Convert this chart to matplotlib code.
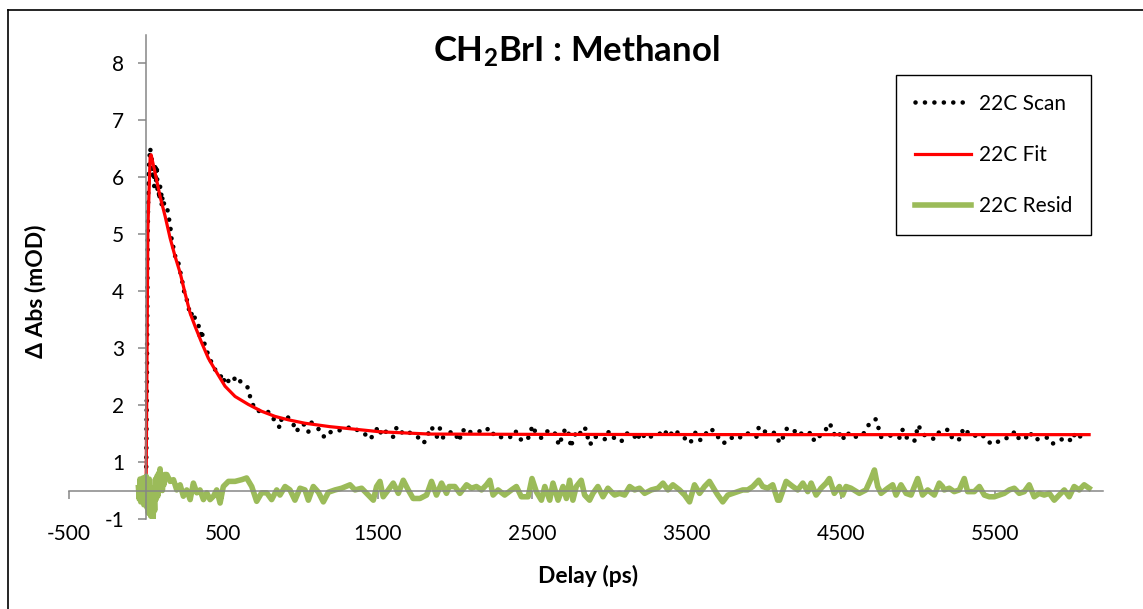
import matplotlib
matplotlib.use('Agg')
import matplotlib.pyplot as plt
from matplotlib.lines import Line2D

# 22C scan (delay in ps, signal in plot units)
scan_t = [-40, -25, -10, 0, 5, 10, 15, 20, 26, 31, 37, 42, 47, 52, 58, 63, 69, 74, 80, 85, 91, 97, 101, 106, 112, 118, 123,
          134, 145, 155, 161, 166, 172, 177, 183, 188, 198, 209, 220, 231, 241, 252, 263, 274, 285, 296, 306, 317, 328,
          339, 349, 360, 371, 382, 393, 403, 414, 425, 436, 447, 458, 468, 479, 490, 500, 511, 522, 533, 549, 565, 587,
          608, 635, 662, 673, 684, 695, 716, 743, 770, 802, 835,
          867, 878, 910, 949, 975, 997, 1029, 1051, 1072, 1105, 1137, 1154, 1202, 1245, 1288, 1331, 1368, 1417, 1454,
          1482, 1510, 1525, 1557, 1601, 1622, 1644, 1687, 1719, 1763, 1799, 1849, 1864, 1885, 1903, 1924, 1963,
          2004, 2022, 2033, 2054, 2069, 2104, 2140, 2190, 2222, 2241, 2269, 2319, 2356, 2392, 2421, 2464, 2492, 2500,
          2522, 2561, 2583, 2610, 2643, 2662, 2673, 2694, 2716, 2733, 2744, 2754, 2765, 2782, 2808, 2819, 2851, 2862,
          2877, 2899, 2940, 2981, 2998, 3024,
          3036, 3079, 3111, 3154, 3182, 3202, 3245, 3284, 3331, 3355, 3385, 3424, 3463, 3506, 3525, 3560, 3592, 3625,
          3650, 3693, 3715, 3743, 3784, 3838, 3870, 3920, 3957, 3970, 3995, 4013, 4049, 4082,
          4104, 4126, 4152, 4190, 4227, 4259, 4294, 4309, 4330, 4358, 4399, 4431, 4449, 4481, 4503, 4524, 4557, 4606,
          4649, 4675, 4712, 4729, 4746, 4762, 4816, 4843, 4869, 4887, 4902, 4928, 4977, 4992, 5003, 5031, 5074, 5111,
          5139, 5160,
          5183, 5208, 5225, 5275, 5290, 5307, 5333, 5383, 5415, 5448, 5495, 5543, 5592, 5631, 5657, 5694, 5726, 5750,
          5793, 5840, 5872, 5920, 5959, 6002, 6019, 6056, 6078]
scan_v = [0.55, 0.6, 0.55, 0.7, 2.5, 5.0, 6.0, 6.3, 6.51, 6.39, 6.30, 6.01, 6.19, 5.84, 6.25, 5.89, 6.20, 5.72, 5.84, 5.60,
          5.84, 5.78, 5.49, 5.66, 5.60, 5.49, 5.49,
          5.49, 5.31, 5.16, 5.02, 4.87, 4.87, 4.73, 4.70, 4.61, 4.49, 4.49, 4.35, 4.20, 4.08, 3.88, 3.85, 3.73, 3.56,
          3.60, 3.64, 3.50, 3.45, 3.41, 3.15, 3.32, 3.10, 3.06, 2.97, 2.85, 2.80, 2.74, 2.71, 2.62, 2.60, 2.59, 2.53,
          2.47, 2.39, 2.50, 2.45, 2.42, 2.45, 2.50, 2.38, 2.42, 2.35, 2.30, 2.15, 2.08, 1.98, 1.89, 1.90, 1.89, 1.87,
          1.71,
          1.60, 1.77, 1.81, 1.69, 1.53, 1.65, 1.66, 1.53, 1.69, 1.60, 1.54, 1.43, 1.54, 1.55, 1.58, 1.62, 1.56, 1.49,
          1.40, 1.54, 1.62, 1.46, 1.54, 1.44, 1.60, 1.50, 1.56, 1.49, 1.43, 1.33, 1.62, 1.53, 1.44, 1.59, 1.43, 1.52,
          1.52, 1.36, 1.42, 1.57, 1.49, 1.53, 1.55, 1.52, 1.60, 1.52, 1.43, 1.44, 1.43, 1.55, 1.40, 1.37, 1.50, 1.64,
          1.53, 1.42, 1.50, 1.56, 1.53, 1.43, 1.29, 1.43, 1.59, 1.56, 1.40, 1.25, 1.42, 1.49, 1.44, 1.60, 1.58, 1.42,
          1.30, 1.44, 1.44, 1.39, 1.54, 1.46,
          1.40, 1.36, 1.50, 1.50, 1.37, 1.52, 1.40, 1.47, 1.50, 1.57, 1.44, 1.57, 1.46, 1.39, 1.33, 1.52, 1.38, 1.49,
          1.59, 1.52, 1.38, 1.33, 1.43, 1.40, 1.50, 1.50, 1.44, 1.62, 1.55, 1.53, 1.54, 1.49,
          1.33, 1.43, 1.59, 1.58, 1.46, 1.53, 1.50, 1.52, 1.36, 1.44, 1.55, 1.68, 1.52, 1.42, 1.53, 1.39, 1.52, 1.43,
          1.50, 1.63, 1.74, 1.75, 1.59, 1.44, 1.47, 1.44, 1.44, 1.42, 1.57, 1.43, 1.36, 1.52, 1.65, 1.49, 1.43, 1.40,
          1.53, 1.56,
          1.57, 1.55, 1.39, 1.40, 1.55, 1.60, 1.47, 1.46, 1.49, 1.36, 1.31, 1.40, 1.43, 1.54, 1.40, 1.40, 1.53, 1.40,
          1.40, 1.43, 1.32, 1.38, 1.43, 1.36, 1.52, 1.44, 1.57]

# 22C fit
fit_t = [-40, 0, 11, 26, 32, 58, 90, 123, 155, 187, 220, 252, 285, 317, 360, 403, 446, 511, 576, 662, 748, 835, 921,
         1029, 1191, 1515, 1838, 2500, 4000, 6110]
fit_v = [0.55, 0.69, 5.1, 6.36, 6.39, 6.07, 5.66, 5.31, 4.93, 4.61, 4.32, 3.96, 3.61, 3.38, 3.09, 2.82, 2.62, 2.33, 2.15,
         2.01, 1.89, 1.80, 1.74, 1.68, 1.62, 1.53, 1.49, 1.485, 1.48, 1.48]

# 22C residual (offset, sits on the x axis)
resid_t = [-50, -45, -40, -35, -30, -25, -20, -15, -10, -5, 0, 5, 10, 15, 20, 25, 30, 35, 40, 45, 50, 55, 60, 65, 70,
           75, 80, 85, 90, 95, 100, 105, 110, 115, 120,
           134, 155, 177, 198, 220, 241, 263, 285, 306, 328, 349, 371, 393, 414, 436, 457, 479, 500, 533, 576, 619,
           651, 684, 716, 748, 781, 813, 846,
           867, 900, 932, 964, 997, 1029, 1051, 1083, 1116, 1148, 1181, 1224, 1267, 1321, 1353, 1396, 1439, 1472, 1493,
           1515, 1536, 1569, 1601, 1634, 1666, 1698, 1730, 1774, 1817, 1849, 1881, 1914, 1946, 1963,
           2000, 2033, 2076, 2108, 2140, 2173, 2205, 2227, 2248, 2280, 2323, 2367, 2399, 2431, 2475, 2500, 2528, 2561,
           2583, 2615, 2636, 2669, 2701, 2723, 2744, 2765, 2787, 2819, 2841, 2873, 2895, 2927, 2960, 2992, 3024,
           3036, 3068, 3100, 3133, 3165, 3197, 3230, 3273, 3316, 3349, 3381, 3413, 3456, 3489, 3521, 3553, 3586, 3618,
           3650, 3683, 3704, 3736, 3769, 3801, 3833, 3866, 3898, 3931, 3969, 3995, 4027, 4060, 4092,
           4104, 4147, 4190, 4222, 4255, 4287, 4309, 4341, 4373, 4406, 4427, 4459, 4492, 4513, 4535, 4567, 4621, 4664,
           4697, 4719, 4740, 4762, 4805, 4837, 4859, 4891, 4924, 4956, 4999, 5031, 5064, 5107, 5139, 5160,
           5171, 5204, 5236, 5269, 5301, 5323, 5366, 5399, 5431, 5463, 5496, 5528, 5560, 5593, 5625, 5657, 5690, 5722,
           5754, 5787, 5819, 5852, 5884, 5916, 5949, 5981, 6013, 6046, 6078, 6110]
resid_v = [0.55, 0.35, 0.70, 0.30, 0.65, 0.40, 0.72, 0.25, 0.60, 0.45, 0.75, 0.20, 0.55, 0.10, 0.70, 0.30, 0.05, 0.55,
           0.20, -0.02, 0.45, 0.15, 0.70, 0.35, 0.75, 0.40, 0.80, 0.50, 0.88, 0.55, 0.75, 0.50, 0.70, 0.60, 0.78,
           0.78, 0.66, 0.69, 0.51, 0.60, 0.40, 0.51, 0.34, 0.63, 0.46, 0.51, 0.34, 0.46, 0.34, 0.40, 0.51, 0.28, 0.57,
           0.66, 0.66, 0.69, 0.72, 0.57, 0.31, 0.46, 0.46, 0.34, 0.51,
           0.42, 0.57, 0.51, 0.33, 0.54, 0.51, 0.33, 0.57, 0.47, 0.30, 0.47, 0.51, 0.54, 0.60, 0.51, 0.54, 0.42, 0.33,
           0.57, 0.66, 0.39, 0.51, 0.63, 0.45, 0.68, 0.51, 0.36, 0.36, 0.42, 0.66, 0.42, 0.63, 0.45, 0.57,
           0.57, 0.45, 0.60, 0.54, 0.57, 0.51, 0.60, 0.68, 0.42, 0.51, 0.42, 0.51, 0.57, 0.39, 0.39, 0.71, 0.48, 0.33,
           0.57, 0.33, 0.63, 0.33, 0.57, 0.36, 0.68, 0.33, 0.57, 0.68, 0.42, 0.33, 0.45, 0.57, 0.39, 0.54, 0.45,
           0.42, 0.45, 0.42, 0.57, 0.51, 0.54, 0.45, 0.51, 0.54, 0.63, 0.51, 0.60, 0.51, 0.42, 0.30, 0.60, 0.45, 0.57,
           0.66, 0.51, 0.42, 0.30, 0.42, 0.45, 0.48, 0.51, 0.51, 0.57, 0.68, 0.57, 0.54, 0.60, 0.33,
           0.33, 0.66, 0.57, 0.51, 0.63, 0.48, 0.63, 0.42, 0.54, 0.63, 0.71, 0.45, 0.57, 0.42, 0.57, 0.54, 0.45, 0.51,
           0.71, 0.86, 0.57, 0.45, 0.54, 0.60, 0.42, 0.60, 0.45, 0.42, 0.71, 0.42, 0.51, 0.42, 0.63, 0.57,
           0.51, 0.54, 0.48, 0.51, 0.71, 0.48, 0.48, 0.57, 0.42, 0.39, 0.39, 0.42, 0.45, 0.51, 0.54, 0.45, 0.48, 0.60,
           0.39, 0.45, 0.42, 0.45, 0.33, 0.42, 0.51, 0.39, 0.57, 0.51, 0.60, 0.54]

x_ticks = [-500, 500, 1500, 2500, 3500, 4500, 5500]
y_ticks = [0, 1, 2, 3, 4, 5, 6, 7, 8]
y_tick_labels = ['-1', '1', '2', '3', '4', '5', '6', '7', '8']

FONT = ['Lato', 'DejaVu Sans']
plt.rcParams['font.family'] = FONT
plt.rcParams['mathtext.default'] = 'regular'

W, H = 1143, 609
fig = plt.figure(figsize=(W / 100, H / 100), dpi=100)
ax = fig.add_axes([69 / W, 1 - 519 / H, (1103 - 69) / W, (519 - 34.5) / H])

AXC = '#868686'
ax.plot(scan_t, scan_v, color='black', lw=3.3, linestyle=(0, (0.01, 2.05)),
        dash_capstyle='round', label='22C Scan')
ax.plot(fit_t, fit_v, color='#ff0000', lw=2.3, label='22C Fit')
ax.plot(resid_t, resid_v, color='#9bbb59', lw=4.0, solid_joinstyle='round', label='22C Resid')

ax.set_xlim(-500, 6200)
ax.set_ylim(0, 8.5)
for s in ['top', 'right']:
    ax.spines[s].set_visible(False)
ax.spines['left'].set_position(('data', 0))
ax.spines['bottom'].set_position(('data', 0.5))
for s in ['left', 'bottom']:
    ax.spines[s].set_color(AXC)
    ax.spines[s].set_linewidth(1.1)

ax.set_xticks(x_ticks)
ax.set_xticklabels([str(v) for v in x_ticks])
ax.set_yticks(y_ticks)
ax.set_yticklabels(y_tick_labels)
ax.tick_params(axis='x', direction='out', length=5.8, width=1.1, color=AXC, pad=18, labelsize=15)
ax.tick_params(axis='y', direction='out', length=5.8, width=1.1, color=AXC, pad=10, labelsize=15)

leg = ax.legend(loc='upper left', bbox_to_anchor=(896 / W, 1 - 75 / H), bbox_transform=fig.transFigure,
                frameon=True, fancybox=False, framealpha=1, edgecolor='black', fontsize=15,
                handlelength=2.7, labelspacing=1.5, borderpad=0.9, handletextpad=0.4, borderaxespad=0)
leg.get_frame().set_linewidth(1.0)

fig.text(576 / W, 1 - 62 / H, 'CH$_2$BrI : Methanol', ha='center', va='baseline',
         fontsize=25, fontweight='bold')
fig.text(588 / W, 1 - 576 / H, 'Delay (ps)', ha='center', va='center', fontsize=16.5, fontweight='bold')
fig.text(36 / W, 1 - 291 / H, 'Δ Abs (mOD)', ha='center', va='center', rotation=90,
         fontsize=16.5, fontweight='bold')

# outer chart border
fig.add_artist(Line2D([8 / W, 1], [1 - 10 / H, 1 - 10 / H], color='black', lw=1.2))
fig.add_artist(Line2D([8 / W, 8 / W], [0, 1 - 10 / H], color='black', lw=1.2))

fig.savefig('out.png', dpi=100)
